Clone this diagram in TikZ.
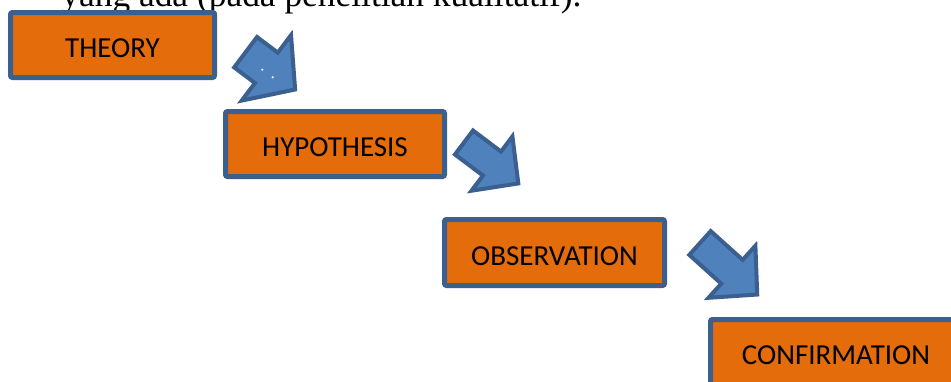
\documentclass[tikz,border=0pt]{standalone}
\usepackage{fontspec}
\setmainfont{Carlito}
\newfontfamily\introfont{Liberation Serif}
\definecolor{stagefill}{HTML}{E46C0A}
\definecolor{edgeblue}{HTML}{3B5F8F}
\definecolor{arrowfill}{HTML}{4F81BD}
\tikzset{
  pics/blockarrow/.style args={#1/#2/#3/#4}{code={
    \draw[arrowbody] (0,-#2) -- (#1-#4,-#2) -- (#1-#4,-#3) -- (#1,0)
      -- (#1-#4,#3) -- (#1-#4,#2) -- (0,#2) -- cycle;
  }}
}
\begin{document}
\begin{tikzpicture}[x=0.5pt,y=-0.5pt,
            stage/.style={draw=edgeblue,fill=stagefill,line width=2.5pt,rounded corners=1pt,
              inner sep=0pt,font=\fontsize{14.5}{17}\selectfont,text height=12.6pt,text depth=0pt},
            arrowbody/.style={draw=edgeblue,fill=arrowfill,line width=2pt}]
            \useasboundingbox (0,0) rectangle (951,381);
            \clip (0,0) rectangle (951,381);
            \node[anchor=base west,inner sep=0pt,font=\introfont\fontsize{17.7}{20}\selectfont] (intro)
              at (61,6) {yang ada (pada penelitian kualitatif).};
            \node[stage,minimum width=102pt,minimum height=32.5pt] (theory) at (112.5,45) {THEORY};
            \node[stage,minimum width=109.5pt,minimum height=32.5pt] (hypothesis) at (335,144) {HYPOTHESIS};
            \node[stage,minimum width=110pt,minimum height=33pt] (observation) at (554.5,252.5) {OBSERVATION};
            \node[stage,minimum width=125.5pt,minimum height=32.5pt] (confirmation) at (836,352) {CONFIRMATION};
            \coordinate (arrow1) at (245.6,52.2);
            \coordinate (arrow2) at (464,142.5);
            \coordinate (arrow3) at (700,243);
            \pic[rotate=-37] at (arrow1) {blockarrow=62/19/41/36};
            \pic[rotate=-37] at (arrow2) {blockarrow=68/15/34/33};
            \pic[rotate=-42] at (arrow3) {blockarrow=77/16/35/34};
            \fill[white] (262.3,69.7) circle (0.6pt) (272.7,77.3) circle (0.6pt);
        \end{tikzpicture}
\end{document}
